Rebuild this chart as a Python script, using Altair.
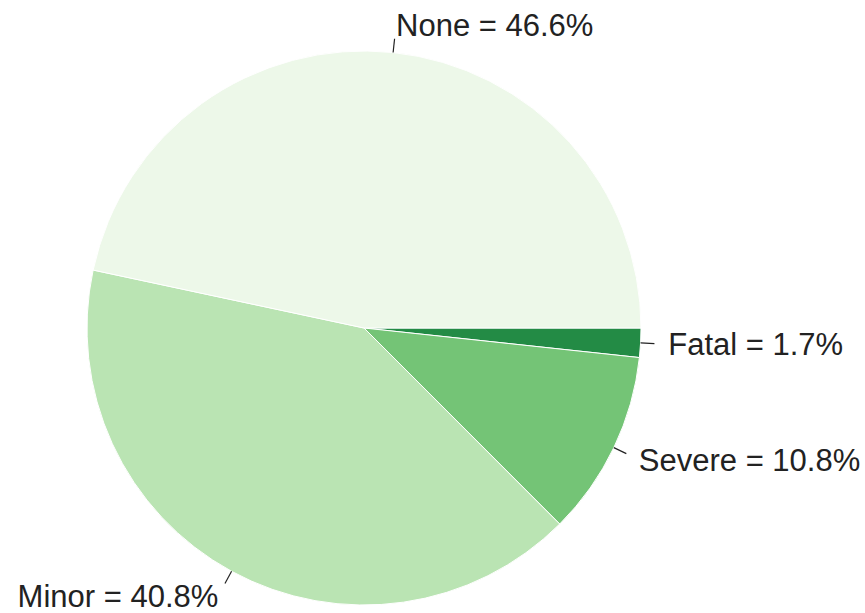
import math
import altair as alt
import pandas as pd

categories = ["Fatal", "Severe", "Minor", "None"]
percents = [1.7, 10.8, 40.8, 46.6]
colors = ["#238b45", "#74c476", "#bae4b3", "#edf8e9"]

CX, CY, R = 364, 328, 277

df = pd.DataFrame({
    "cat": categories,
    "pct": percents,
    "idx": list(range(len(categories))),
})
df["label"] = [f"{c} = {p}%" for c, p in zip(categories, percents)]

base = alt.Chart(df)

pie = base.mark_arc(radius=R, stroke="white", strokeWidth=1, x=CX, y=CY).encode(
    theta=alt.Theta("pct:Q", stack=True,
                    scale=alt.Scale(range=[math.pi / 2, math.pi / 2 + 2 * math.pi])),
    color=alt.Color("cat:N", scale=alt.Scale(domain=categories, range=colors), legend=None),
    order=alt.Order("idx:Q"),
)

geo = base.transform_joinaggregate(
    total="sum(pct)"
).transform_window(
    cum="sum(pct)", sort=[alt.SortField("idx")]
).transform_calculate(
    a=f"((datum.cum - datum.pct/2) / datum.total) * 2 * PI + PI/2",
).transform_calculate(
    x1=f"{CX} + {R} * sin(datum.a)",
    y1=f"{CY} - {R} * cos(datum.a)",
    x2=f"{CX} + {R * 1.05} * sin(datum.a)",
    y2=f"{CY} - {R * 1.05} * cos(datum.a)",
    lx=f"{CX} + {R * 1.1} * sin(datum.a)",
    ly=f"{CY} - {R * 1.1} * cos(datum.a)",
    side="sin(datum.a) >= 0 ? 'right' : 'left'",
)

leaders = geo.mark_rule(color="#222222", strokeWidth=1.2).encode(
    x=alt.X("x1:Q", scale=None, axis=None),
    y=alt.Y("y1:Q", scale=None, axis=None),
    x2="x2:Q",
    y2="y2:Q",
)

txt_right = geo.transform_filter("datum.side == 'right'").mark_text(
    align="left", baseline="middle", font="Liberation Sans", fontSize=31,
    color="#222222", dy=2
).encode(
    x=alt.X("lx:Q", scale=None, axis=None),
    y=alt.Y("ly:Q", scale=None, axis=None),
    text="label:N",
)

txt_left = geo.transform_filter("datum.side == 'left'").mark_text(
    align="right", baseline="middle", font="Liberation Sans", fontSize=31,
    color="#222222", dy=2
).encode(
    x=alt.X("lx:Q", scale=None, axis=None),
    y=alt.Y("ly:Q", scale=None, axis=None),
    text="label:N",
)

chart = alt.layer(pie, leaders, txt_right, txt_left).properties(
    width=865, height=613,
    autosize=alt.AutoSizeParams(type="none"),
    padding=0,
    background="white",
).configure_view(stroke=None)

chart.save("out.html", embed_options={"renderer": "svg", "actions": False})
